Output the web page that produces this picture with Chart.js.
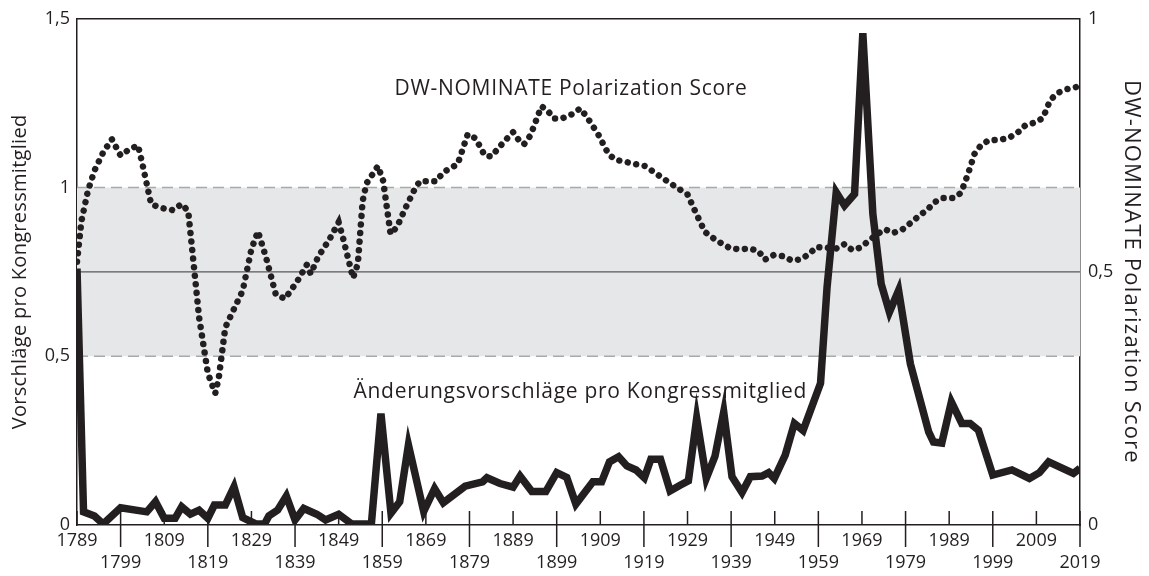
<!DOCTYPE html>
<html>
<head>
<meta charset="utf-8">
<script src="https://cdn.jsdelivr.net/npm/chart.js@4.4.0/dist/chart.umd.min.js"></script>
<style>
html, body { margin: 0; padding: 0; background: #fff; }
#wrap { width: 1149px; height: 576px; }
</style>
</head>
<body>
<div id="wrap"><canvas id="chart"></canvas></div>
<script>
var ink = '#231f20';
var fontName = '"Open Sans", sans-serif';

// Änderungsvorschläge pro Kongressmitglied (linke Achse)
var amendYears = [1789, 1790.5, 1793, 1795, 1799, 1805, 1807, 1809, 1811.5, 1813, 1815, 1817, 1819, 1820.5,
  1823, 1825, 1827, 1830, 1832, 1833, 1835, 1837, 1839, 1841, 1844, 1846, 1849, 1852, 1856.5, 1858.7,
  1861, 1863, 1865, 1868.5, 1871, 1873, 1878, 1882, 1883, 1886, 1889, 1890.6, 1893.3, 1896.5, 1899,
  1901.3, 1903.4, 1907.3, 1909.3, 1911.1, 1913.2, 1915.1, 1917.2, 1919.1, 1920.6, 1922.8, 1925, 1927.3,
  1929.2, 1931.1, 1933.3, 1935.3, 1937.3, 1939.2, 1941.5, 1943.4, 1946.1, 1947.6, 1948.9, 1951.4, 1953.5,
  1955.5, 1959.5, 1961, 1963.1, 1965, 1967.3, 1969.2, 1971.5, 1973.4, 1975.3, 1977.4, 1980.1, 1984.3,
  1985.4, 1987.3, 1989.5, 1991.9, 1993.8, 1995.7, 1999, 2003.4, 2007.4, 2009.7, 2011.8, 2017.5, 2019];
var amendValues = [0.76, 0.039, 0.027, 0.003, 0.051, 0.039, 0.069, 0.02, 0.02, 0.054, 0.032, 0.044, 0.02, 0.059,
  0.059, 0.113, 0.022, 0.003, 0.003, 0.027, 0.044, 0.086, 0.015, 0.049, 0.032, 0.015, 0.032, 0.003, 0.003, 0.33,
  0.035, 0.069, 0.237, 0.04, 0.108, 0.066, 0.115, 0.128, 0.14, 0.123, 0.112, 0.145, 0.099, 0.099, 0.155,
  0.141, 0.062, 0.128, 0.128, 0.187, 0.202, 0.175, 0.163, 0.14, 0.195, 0.195, 0.101, 0.118,
  0.131, 0.316, 0.138, 0.204, 0.335, 0.143, 0.096, 0.143, 0.145, 0.155, 0.138, 0.207, 0.301,
  0.28, 0.42, 0.705, 0.986, 0.947, 0.981, 1.457, 0.922, 0.715, 0.631, 0.695, 0.478, 0.276,
  0.246, 0.243, 0.365, 0.301, 0.301, 0.281, 0.148, 0.163, 0.138, 0.155, 0.187, 0.153, 0.168];

// DW-NOMINATE Polarization Score (rechte Achse)
var polYears = [1789, 1790, 1791.5, 1793, 1795, 1797, 1799, 1801, 1803, 1804, 1806, 1808, 1811, 1813, 1814.5,
  1815.5, 1817, 1819, 1820.7, 1821.5, 1823, 1825, 1827, 1829, 1830.5, 1832.3, 1834.6, 1836.7, 1839.4, 1841.7,
  1842.6, 1844.3, 1846.8, 1849, 1850, 1852.3, 1853.4, 1854.5, 1855.4, 1858, 1859.2, 1860.9, 1862.4, 1864.2,
  1866.3, 1867.6, 1871.4, 1873, 1876.3, 1878.6, 1880.4, 1882.5, 1884, 1887, 1889, 1890.5, 1891.5, 1893,
  1895.5, 1896.8, 1898.3, 1900.2, 1902.4, 1904.4, 1906, 1908.5, 1910.8, 1912.3, 1917, 1919.3, 1923, 1927,
  1929, 1931, 1933, 1935, 1937, 1939, 1941, 1943.4, 1945.3, 1946.7, 1948.7, 1951, 1953, 1955, 1957, 1958.5,
  1961, 1963, 1965, 1966.8, 1968.6, 1970.5, 1972.4, 1974.3, 1976.2, 1978.3, 1980.2, 1982, 1984, 1985.7,
  1987.6, 1990, 1991.7, 1993.3, 1994.8, 1996.1, 1998, 2000.4, 2002.6, 2004.8, 2006.4, 2008.6, 2010.5,
  2012.2, 2014, 2016, 2018.5];
var polValues = [0.52, 0.6, 0.66, 0.7, 0.736, 0.762, 0.73, 0.742, 0.75, 0.713, 0.634, 0.627, 0.622, 0.634, 0.62,
  0.537, 0.41, 0.3, 0.26, 0.29, 0.39, 0.427, 0.463, 0.545, 0.58, 0.53, 0.455, 0.447, 0.48, 0.514,
  0.496, 0.53, 0.563, 0.598, 0.567, 0.488, 0.516, 0.64, 0.675, 0.709, 0.68, 0.575, 0.589, 0.624,
  0.661, 0.679, 0.679, 0.697, 0.713, 0.772, 0.764, 0.73, 0.728, 0.758, 0.776, 0.758, 0.752, 0.77,
  0.827, 0.82, 0.803, 0.803, 0.811, 0.823, 0.805, 0.772, 0.734, 0.722, 0.713, 0.709, 0.687, 0.664,
  0.653, 0.615, 0.579, 0.566, 0.555, 0.546, 0.545, 0.546, 0.541, 0.524, 0.533, 0.531, 0.522, 0.525, 0.536, 0.549,
  0.548, 0.546, 0.555, 0.543, 0.548, 0.561, 0.574, 0.584, 0.577, 0.584, 0.597, 0.61, 0.623, 0.638,
  0.646, 0.646, 0.656, 0.693, 0.733, 0.748, 0.76, 0.761, 0.764, 0.776, 0.789, 0.795, 0.804,
  0.84, 0.854, 0.861, 0.866];

var yearTicks = [1789, 1799, 1809, 1819, 1829, 1839, 1849, 1859, 1869, 1879, 1889, 1899,
  1909, 1919, 1929, 1939, 1949, 1959, 1969, 1979, 1989, 1999, 2009, 2019];
var leftTicks = [0, 0.5, 1, 1.5];
var rightTicks = [0, 0.5, 1];
var band = [0.5, 1];
var midLine = 0.75;

function pairs(xs, ys) {
  return xs.map(function (x, i) { return { x: x, y: ys[i] }; });
}
function comma(v) { return String(v).replace('.', ','); }
function setTicks(list) {
  return function (scale) { scale.ticks = list.map(function (v) { return { value: v }; }); };
}

var decor = {
  id: 'decor',
  beforeDatasetsDraw: function (chart) {
    var ctx = chart.ctx, x = chart.scales.x, y = chart.scales.y;
    var yTop = y.getPixelForValue(band[1]), yBot = y.getPixelForValue(band[0]);
    ctx.save();
    ctx.fillStyle = '#e6e7e8';
    ctx.fillRect(x.left, yTop, x.right - x.left, yBot - yTop);
    ctx.strokeStyle = '#a7a9ac';
    ctx.lineWidth = 1.5;
    ctx.setLineDash([11, 6]);
    ctx.beginPath();
    ctx.moveTo(x.left, yTop); ctx.lineTo(x.right, yTop);
    ctx.moveTo(x.left, yBot); ctx.lineTo(x.right, yBot);
    ctx.stroke();
    ctx.setLineDash([]);
    ctx.strokeStyle = '#58595b';
    ctx.lineWidth = 1.2;
    var ym = y.getPixelForValue(midLine);
    ctx.beginPath();
    ctx.moveTo(x.left, ym); ctx.lineTo(x.right, ym);
    ctx.stroke();
    ctx.restore();
  },
  afterDraw: function (chart) {
    var ctx = chart.ctx, x = chart.scales.x, y = chart.scales.y;
    var area = chart.chartArea;
    ctx.save();
    ctx.strokeStyle = ink;
    ctx.lineWidth = 1.5;
    ctx.beginPath();
    ctx.moveTo(area.left, area.top); ctx.lineTo(area.right, area.top);
    yearTicks.forEach(function (yr, i) {
      var px = x.getPixelForValue(yr);
      ctx.moveTo(px, area.bottom - 14);
      ctx.lineTo(px, area.bottom + (i % 2 ? 22 : 0));
    });
    ctx.stroke();

    ctx.fillStyle = ink;
    ctx.textAlign = 'center';
    ctx.textBaseline = 'middle';
    var midY = (area.top + area.bottom) / 2;

    // axis titles
    ctx.save();
    ctx.font = '20px ' + fontName;
    ctx.letterSpacing = '0.3px';
    ctx.translate(20, midY);
    ctx.rotate(-Math.PI / 2);
    ctx.fillText('Vorschläge pro Kongressmitglied', 0, 0);
    ctx.restore();
    ctx.save();
    ctx.font = '22px ' + fontName;
    ctx.letterSpacing = '1.2px';
    ctx.translate(chart.width - 18, midY);
    ctx.rotate(Math.PI / 2);
    ctx.fillText('DW-NOMINATE Polarization Score', 0, 0);
    ctx.restore();

    // series labels inside the plot
    ctx.font = '21px ' + fontName;
    ctx.letterSpacing = '0.7px';
    ctx.fillText('DW-NOMINATE Polarization Score', x.getPixelForValue(1902.3), y.getPixelForValue(1.293));
    ctx.fillText('Änderungsvorschläge pro Kongressmitglied', x.getPixelForValue(1904.4), y.getPixelForValue(0.393));
    ctx.restore();
  }
};

new Chart(document.getElementById('chart'), {
  type: 'line',
  data: {
    datasets: [{
      label: 'Änderungsvorschläge pro Kongressmitglied',
      data: pairs(amendYears, amendValues),
      yAxisID: 'y',
      borderColor: ink,
      borderWidth: 7.5,
      borderJoinStyle: 'miter',
      pointRadius: 0,
      tension: 0
    }, {
      label: 'DW-NOMINATE Polarization Score',
      data: pairs(polYears, polValues),
      yAxisID: 'y1',
      borderColor: ink,
      borderWidth: 6.5,
      borderDash: [0.01, 8.6],
      borderCapStyle: 'round',
      pointRadius: 0,
      tension: 0
    }]
  },
  options: {
    responsive: true,
    maintainAspectRatio: false,
    animation: false,
    layout: { padding: { top: 17, left: 0, right: 0, bottom: 0 } },
    plugins: { legend: { display: false }, tooltip: { enabled: false } },
    scales: {
      x: {
        type: 'linear',
        min: 1789,
        max: 2019,
        afterBuildTicks: setTicks(yearTicks),
        afterFit: function (s) { s.height = 51; },
        grid: { display: false, drawTicks: false },
        border: { display: true, color: ink, width: 1.5 },
        ticks: {
          padding: 5,
          autoSkip: false,
          maxRotation: 0,
          color: ink,
          font: { family: fontName, size: 18 },
          callback: function (v, i) { return i % 2 ? ['', String(v)] : String(v); }
        }
      },
      y: {
        position: 'left',
        min: 0,
        max: 1.5,
        afterBuildTicks: setTicks(leftTicks),
        afterFit: function (s) { s.width = 77; },
        grid: { display: false, drawTicks: false },
        border: { display: true, color: ink, width: 1.5 },
        ticks: { padding: 7, color: ink, font: { family: fontName, size: 18 }, callback: comma }
      },
      y1: {
        position: 'right',
        min: 0,
        max: 1,
        afterBuildTicks: setTicks(rightTicks),
        afterFit: function (s) { s.width = 69; },
        grid: { display: false, drawTicks: false },
        border: { display: true, color: ink, width: 1.5 },
        ticks: { padding: 8, color: ink, font: { family: fontName, size: 18 }, callback: comma }
      }
    }
  },
  plugins: [decor]
});
</script>
</body>
</html>
